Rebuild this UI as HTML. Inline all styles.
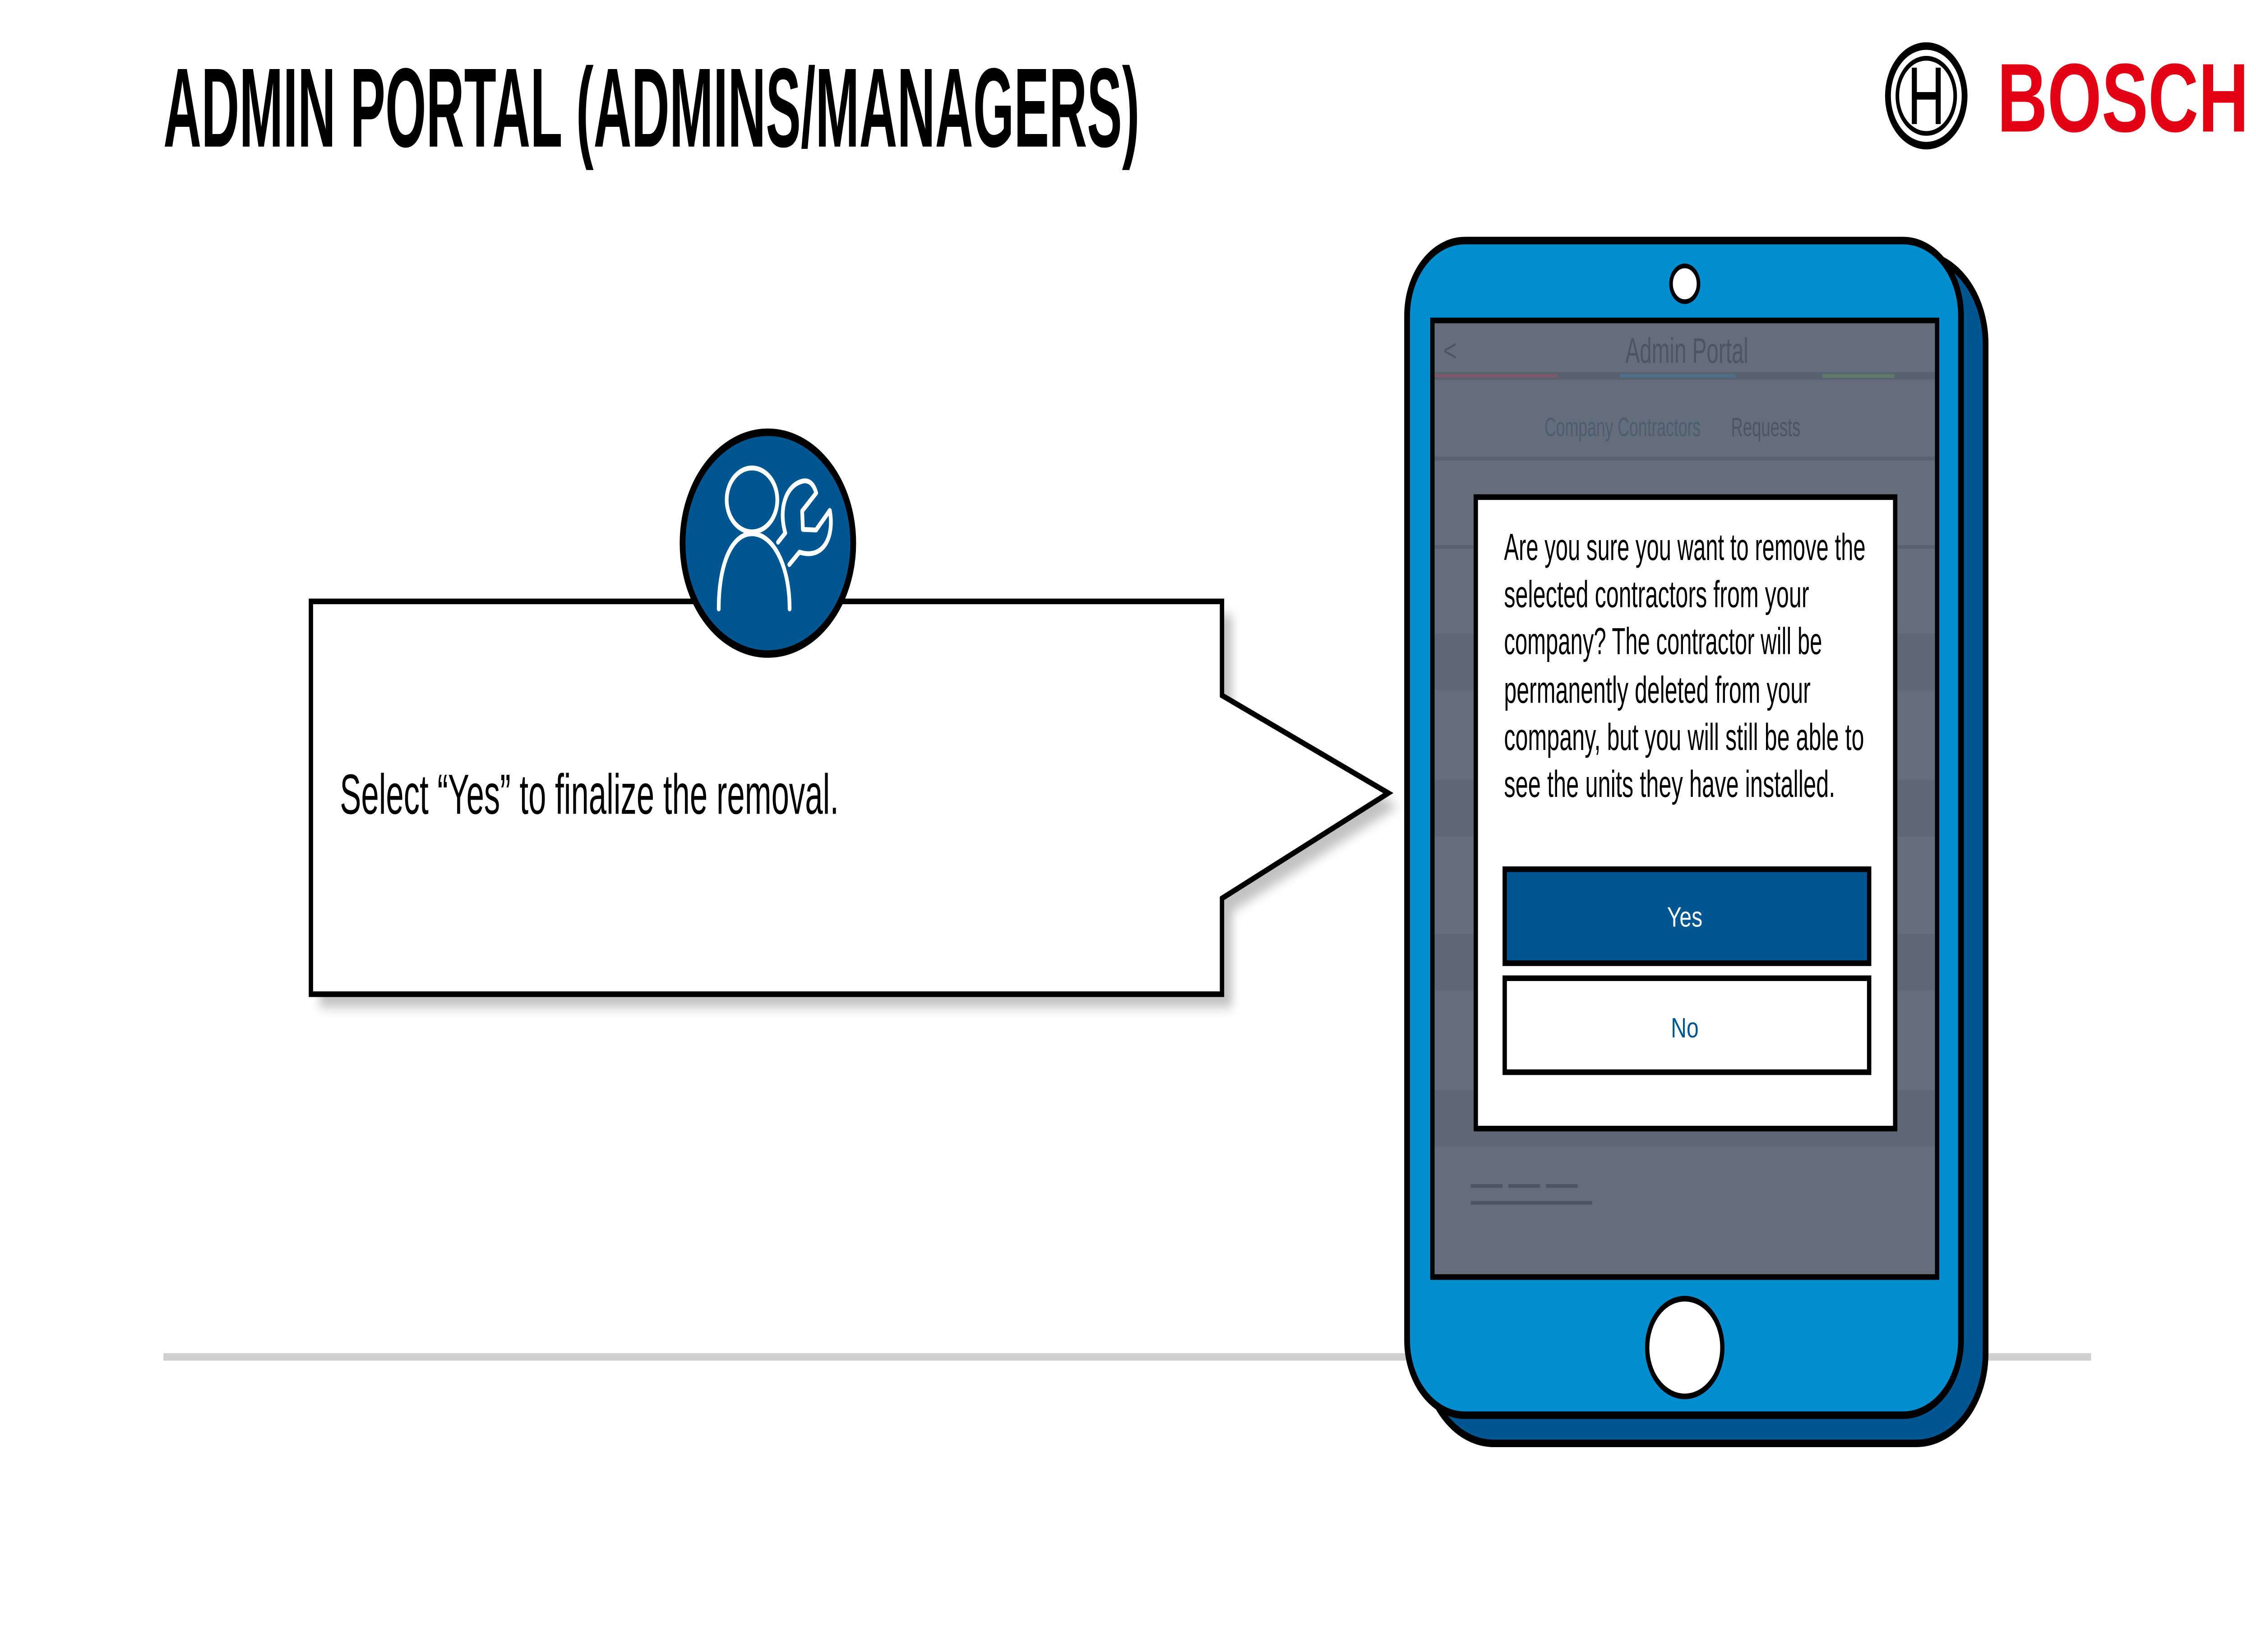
<!DOCTYPE html>
<html><head><meta charset="utf-8">
<style>
html,body{margin:0;padding:0;background:#fff;width:100%;height:100%;overflow:hidden;}
svg{display:block;width:100vw;height:100vh;position:fixed;left:0;top:0;}
text{font-family:"Liberation Sans",sans-serif;}
</style></head><body>
<svg viewBox="0 0 1560 879" preserveAspectRatio="none" xmlns="http://www.w3.org/2000/svg">
<defs><filter id="f" x="-10%" y="-10%" width="130%" height="130%"><feGaussianBlur stdDeviation="3"/></filter></defs>
<rect width="1560" height="879" fill="#fff"/>
<text x="113" y="78" font-size="60" font-weight="bold" textLength="675" lengthAdjust="spacingAndGlyphs">ADMIN PORTAL (ADMINS/MANAGERS)</text>
<g transform="translate(1300,20)">
<circle cx="32" cy="31" r="26.5" fill="none" stroke="#000" stroke-width="4"/>
<circle cx="32" cy="31" r="20" fill="none" stroke="#000" stroke-width="2.5"/>
<rect x="22" y="16" width="3.5" height="30"/><rect x="38.5" y="16" width="3.5" height="30"/>
<rect x="25" y="29" width="14" height="4"/>
</g>
<text x="1381" y="70" font-size="52" font-weight="bold" fill="#e20015" textLength="174" lengthAdjust="spacingAndGlyphs">BOSCH</text>
<rect x="113" y="720" width="1333" height="4" fill="#cfcfcf"/>

<path d="M221 327 H852 V377 L967 429 L852 485 V536 H221 Z" fill="#999" opacity="0.6" filter="url(#f)"/>
<path d="M215 320 H845 V370 L960 422 L845 478 V529 H215 Z" fill="#fff" stroke="#000" stroke-width="3"/>
<circle cx="531" cy="289" r="59" fill="#005691" stroke="#000" stroke-width="4"/>
<g fill="none" stroke="#fff" stroke-width="2.6" stroke-linecap="round" stroke-linejoin="round">
<ellipse cx="520" cy="266" rx="17.5" ry="17"/>
<path d="M497 324 C497 300 506 284 520 284 C534 284 546 300 546 324"/>
<path d="M538 288.5 L543 283.6 C538 270 544 258 555 256 C558 255.5 562 256 564.4 262.3 L554.7 271.9 L555.2 281.7 L564.3 282 L573.8 271.6 C577 285 570 298 552.8 293.8 L545.8 300.4"/>
</g>
<text x="235" y="433" font-size="30" textLength="345" lengthAdjust="spacingAndGlyphs">Select “Yes” to finalize the removal.</text>

<rect x="985" y="135" width="388" height="633" rx="48" fill="#005691" stroke="#000" stroke-width="4"/>
<rect x="973" y="128" width="383" height="625" rx="40" fill="#008ecf" stroke="#000" stroke-width="4"/>
<circle cx="1165" cy="151" r="9.5" fill="#fff" stroke="#000" stroke-width="2.5"/>
<circle cx="1165" cy="717" r="26" fill="#fff" stroke="#000" stroke-width="3"/>
<rect x="990.5" y="170.5" width="349" height="509" fill="#646e7a" stroke="#000" stroke-width="3"/>
<text x="998" y="192" font-size="16" fill="#4c5663">&lt;</text>
<text x="1124" y="193" font-size="19" fill="#4c5663" textLength="85" lengthAdjust="spacingAndGlyphs">Admin Portal</text>
<rect x="992" y="198" width="346" height="4" fill="#57626e"/>
<rect x="992" y="199" width="85" height="2" fill="#7a5a6a"/>
<rect x="1120" y="199" width="80" height="2" fill="#4f6f88"/>
<rect x="1260" y="199" width="50" height="2" fill="#5f7a66"/>
<text x="1068" y="232" font-size="14" fill="#4c5d70" textLength="108" lengthAdjust="spacingAndGlyphs">Company Contractors</text>
<text x="1197" y="232" font-size="14" fill="#4c5663" textLength="48" lengthAdjust="spacingAndGlyphs">Requests</text>
<rect x="992" y="243" width="346" height="2" fill="#57626e"/>
<rect x="992" y="290" width="346" height="2" fill="#57626e"/>
<rect x="992" y="337" width="346" height="30" fill="#5e6874"/>
<rect x="992" y="415" width="346" height="30" fill="#5e6874"/>
<rect x="992" y="497" width="346" height="30" fill="#5e6874"/>
<rect x="992" y="580" width="346" height="30" fill="#5e6874"/>
<rect x="1017" y="630" width="22" height="2" fill="#4c5663"/>
<rect x="1043" y="630" width="22" height="2" fill="#4c5663"/>
<rect x="1069" y="630" width="22" height="2" fill="#4c5663"/>
<rect x="1017" y="639" width="84" height="2" fill="#4c5663"/>

<rect x="1020.5" y="264.5" width="290" height="336" fill="#fff" stroke="#000" stroke-width="3"/>
<g font-size="20">
<text x="1040" y="298" textLength="250" lengthAdjust="spacingAndGlyphs">Are you sure you want to remove the</text>
<text x="1040" y="323" textLength="211" lengthAdjust="spacingAndGlyphs">selected contractors from your</text>
<text x="1040" y="348" textLength="220" lengthAdjust="spacingAndGlyphs">company? The contractor will be</text>
<text x="1040" y="374" textLength="212" lengthAdjust="spacingAndGlyphs">permanently deleted from your</text>
<text x="1040" y="399" textLength="249" lengthAdjust="spacingAndGlyphs">company, but you will still be able to</text>
<text x="1040" y="424" textLength="229" lengthAdjust="spacingAndGlyphs">see the units they have installed.</text>
</g>
<rect x="1040.5" y="462.5" width="252" height="50" fill="#005691" stroke="#000" stroke-width="3"/>
<text x="1165" y="493" font-size="15" fill="#fff" text-anchor="middle">Yes</text>
<rect x="1040.5" y="520.5" width="252" height="50" fill="#fff" stroke="#000" stroke-width="3"/>
<text x="1165" y="552" font-size="15" fill="#005691" text-anchor="middle">No</text>
</svg>
</body></html>
